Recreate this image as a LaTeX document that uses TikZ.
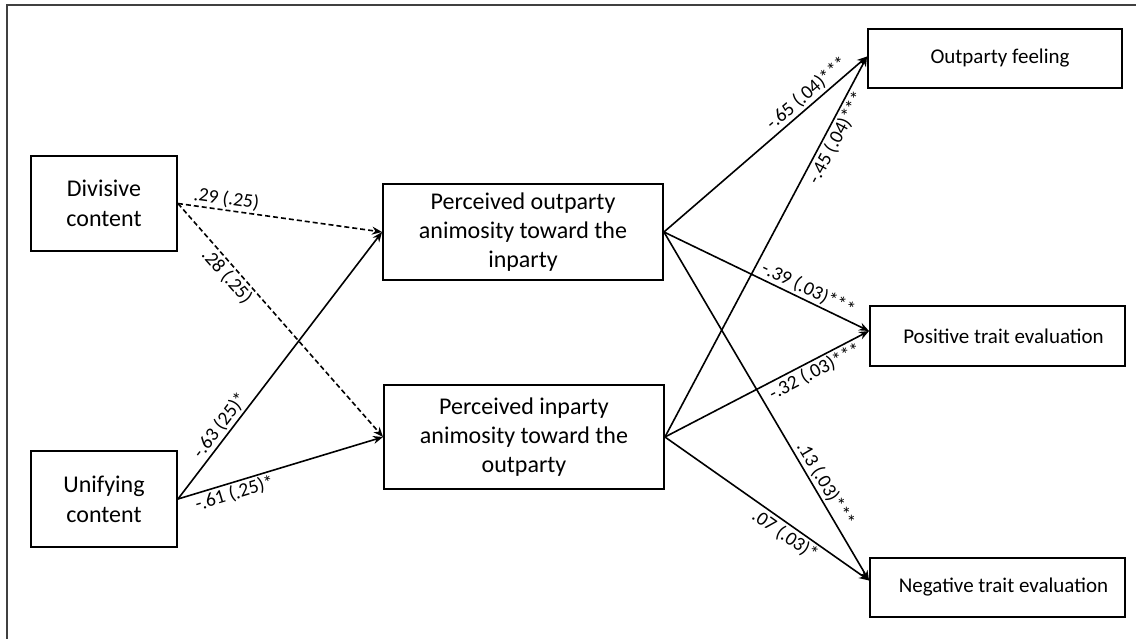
\documentclass[tikz,border=0pt]{standalone}
\usepackage{fontspec}
\setmainfont{Carlito}
\usetikzlibrary{arrows.meta,calc}
\begin{document}
\begin{tikzpicture}[x=1pt,y=-1pt,
  box/.style={draw,line width=1.9pt,align=center,font=\fontsize{21}{28}\selectfont,inner sep=0pt},
  bigbox/.style={box,font=\fontsize{24}{29}\selectfont},
  conn/.style={line width=1.6pt,-{Stealth[length=10pt,width=8pt]}},
  dconn/.style={conn,dash pattern=on 5pt off 3pt},
  lab/.style={font=\fontsize{19.5}{21}\selectfont,sloped,inner sep=2pt}]
\useasboundingbox (0,0) rectangle (1136,639);
\draw[line width=1.2pt,black!75] (7,639) -- (7,5) -- (1136,5);
\node[bigbox,minimum width=146pt,minimum height=95pt,font=\fontsize{24}{30}\selectfont] (div) at (104,203.5) {Divisive\\content};
\node[bigbox,minimum width=146pt,minimum height=96pt,font=\fontsize{24}{30}\selectfont] (uni) at (104,499) {Unifying\\content};
\node[bigbox,minimum width=280pt,minimum height=96pt] (pout) at (523,232) {Perceived outparty\\animosity toward the\\inparty};
\node[bigbox,minimum width=280pt,minimum height=104pt] (pin) at (524,437) {Perceived inparty\\animosity toward the\\outparty};
\node[box,minimum width=254pt,minimum height=59pt] (feel) at (995,58.5) {\hspace*{10pt}Outparty feeling};
\node[box,minimum width=255pt,minimum height=60pt] (pos) at (997.5,336) {\hspace*{12pt}Positive trait evaluation};
\node[box,minimum width=255pt,minimum height=59pt] (neg) at (997.5,587.5) {\hspace*{12pt}Negative trait evaluation};
\coordinate (feelin) at ([yshift=2pt]feel.west);
\coordinate (posin) at ([yshift=5pt]pos.west);
\coordinate (negin) at ([yshift=7pt]neg.west);
% left paths
\draw[dconn] (div.east) -- node[lab,above,pos=0.23]{.29 (.25)} (pout.west);
\draw[dconn] (div.east) -- node[lab,below,pos=0.28]{.28 (.25)} (pin.west);
\draw[conn] (uni.east) -- node[lab,above,pos=0.25]{-.63 (25)*} (pout.west);
\draw[conn] (uni.east) -- node[lab,below,pos=0.26]{-.61 (.25)*} (pin.west);
% right paths
\draw[conn] (pout.east) -- node[lab,above,pos=0.74]{-.65 (.04)***} (feelin);
\draw[conn] (pin.east) -- node[lab,below,pos=0.80]{-.45 (.04)***} (feelin);
\draw[conn] (pout.east) -- node[lab,above,pos=0.68]{-.39 (.03)***} (posin);
\draw[conn] (pin.east) -- node[lab,below,pos=0.71]{-.32 (.03)***} (posin);
\draw[conn] (pout.east) -- node[lab,above,pos=0.74]{.13 (.03)***} (negin);
\draw[conn] (pin.east) -- node[lab,below,pos=0.62]{.07 (.03)*} (negin);
\end{tikzpicture}
\end{document}
